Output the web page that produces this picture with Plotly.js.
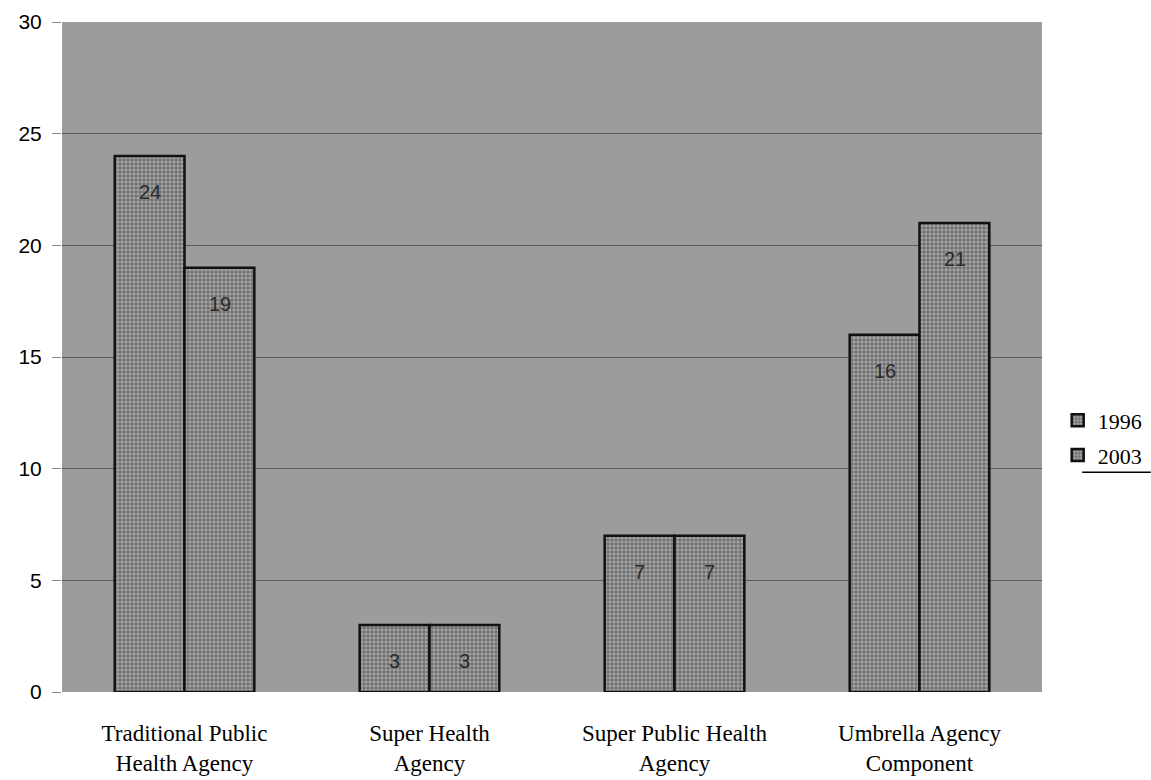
<!DOCTYPE html>
<html><head><meta charset="utf-8">
<script src="https://cdn.plot.ly/plotly-3.0.1.min.js"></script>
<style>body{margin:0;background:#fff}#c{width:1151px;height:780px}</style>
</head><body><div id="c"></div>
<script>
const categories = ["Traditional Public<br>Health Agency", "Super Health<br>Agency", "Super Public Health<br>Agency", "Umbrella Agency<br>Component"];
const series1996 = [24, 3, 7, 16];
const series2003 = [19, 3, 7, 21];
const seriesNames = ["1996", "2003"];
const yTicks = [0, 5, 10, 15, 20, 25, 30];

function bar(name, vals){
  return {
    type: 'bar', name: name, x: categories, y: vals, legendgroup: name,
    marker: {color: '#8e8e8e', line: {color: '#111', width: 2.5},
      pattern: {shape: '+', size: 4, solidity: 0.35, fgcolor: '#555', bgcolor: '#a4a4a4', fillmode: 'replace'}},
    hoverinfo: 'none'
  };
}
const data = [bar(seriesNames[0], series1996), bar(seriesNames[1], series2003)];
const annotations = [];
[series1996, series2003].forEach((vals, si) => {
  vals.forEach((v, ci) => {
    annotations.push({x: ci, y: v, xref: 'x', yref: 'y', text: String(v), showarrow: false,
      xshift: (si === 0 ? -35 : 35), yshift: -36,
      font: {family: 'Liberation Sans, Arial', size: 20, color: '#2a2a2a'}});
  });
});
const layout = {
  width: 1151, height: 780,
  margin: {l: 62, r: 109, t: 22, b: 88, autoexpand: false},
  paper_bgcolor: '#ffffff', plot_bgcolor: '#9c9c9c',
  barmode: 'group', bargap: 0.43, bargroupgap: 0,
  showlegend: true,
  legend: {x: 1.016, xanchor: 'left', y: 0.379, yanchor: 'middle',
    font: {family: 'Liberation Serif, Times New Roman', size: 22, color: '#000'},
    bgcolor: 'rgba(0,0,0,0)', tracegroupgap: 3, itemwidth: 30},
  xaxis: {showgrid: false, zeroline: false, ticks: '', showline: false,
    ticklabelstandoff: 25,
    tickfont: {family: 'Liberation Serif, Times New Roman', size: 23, color: '#000'}},
  yaxis: {range: [0, 30], tickvals: yTicks, ticks: 'outside', ticklen: 9, tickcolor: '#888',
    showgrid: true, gridcolor: '#5a5a5a', gridwidth: 1, zeroline: false, showline: false,
    ticklabelstandoff: 6,
    tickfont: {family: 'Liberation Sans, Arial', size: 21, color: '#000'}},
  annotations: annotations,
  shapes: [{type: 'line', xref: 'paper', yref: 'paper', x0: 1.041, x1: 1.111, y0: 0.328, y1: 0.328,
    line: {color: '#000', width: 1.5}}]
};
Plotly.newPlot('c', data, layout, {staticPlot: true});
</script></body></html>
